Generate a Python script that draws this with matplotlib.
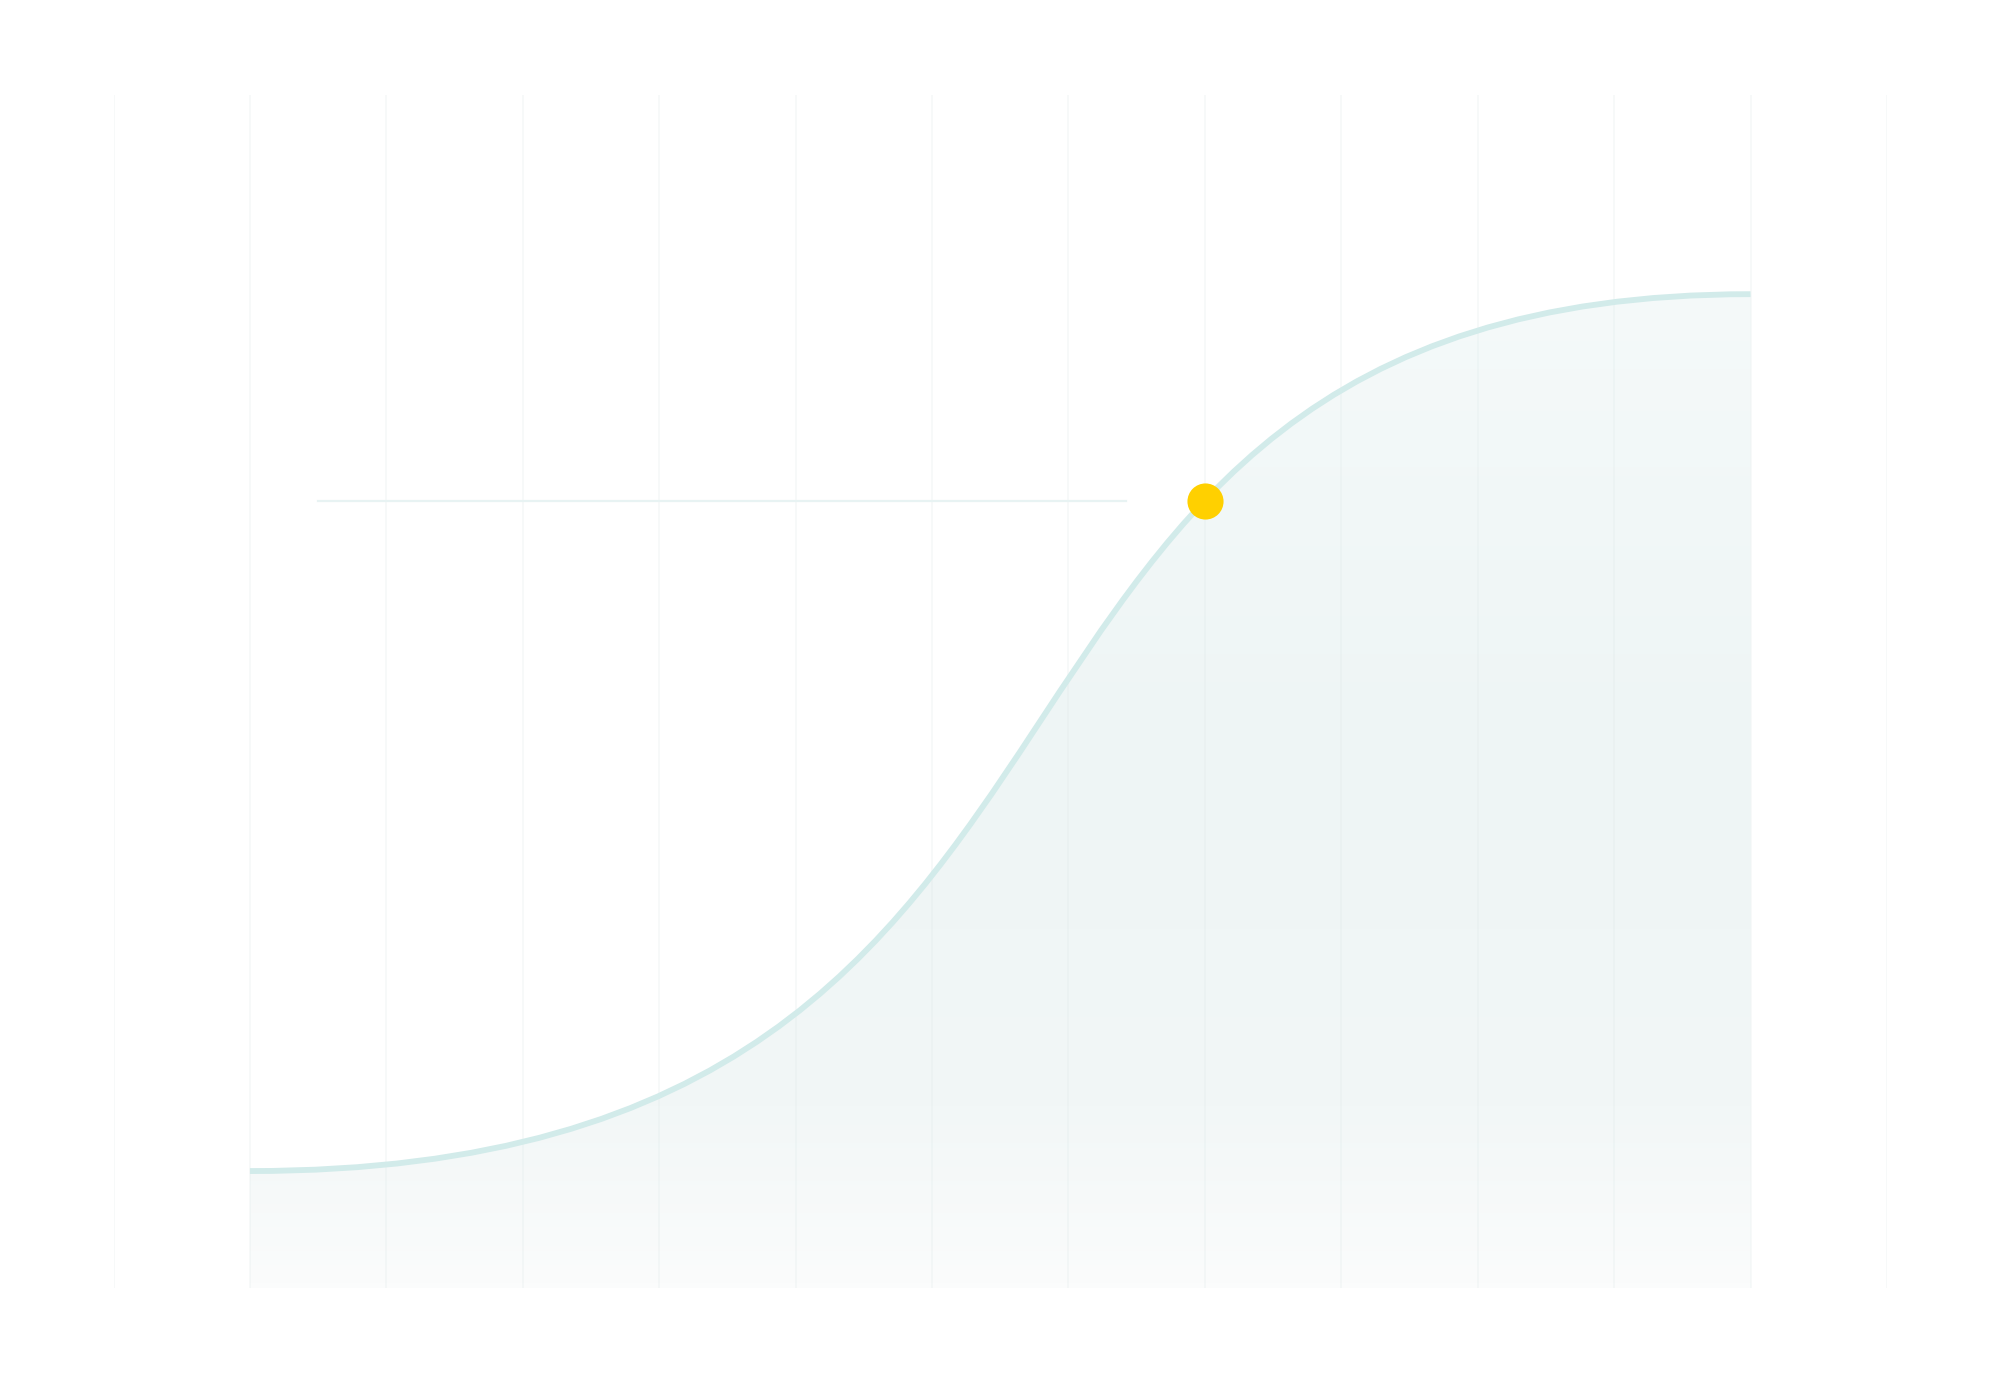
import numpy as np
from matplotlib import pyplot as plt
from matplotlib.colors import LinearSegmentedColormap
from matplotlib.path import Path
from matplotlib.patches import PathPatch

# Позиції сітки (категорії по осі X)
grid_x = np.arange(0, 14)

# Крива: початок, дві контрольні точки Безьє, кінець
curve_x = [1, 8.075, 5.56, 12]
curve_y = [9.8, 9.8, 83.3, 83.3]

# Виділена точка і опорна лінія
marker_x = 8
marker_y = 66.0
ref_x = [1.5, 7.42]
ref_y = 66.0

fig = plt.figure(figsize=(20, 13.8), dpi=100)
ax = fig.add_axes([0.05675, 0.0667, 0.88675, 0.8645])
ax.set_xlim(0, 13)
ax.set_ylim(0, 100)
ax.axis("off")

# Вертикальна сітка
for gx in grid_x:
    ax.axvline(gx, color="#dde8e8", alpha=0.28, linewidth=1.2, zorder=2)

curve_pts = list(zip(curve_x, curve_y))
curve_path = Path(curve_pts, [Path.MOVETO, Path.CURVE4, Path.CURVE4, Path.CURVE4])
area_path = Path(curve_pts + [(curve_x[-1], 0), (curve_x[0], 0), (curve_x[0], curve_y[0])],
                 [Path.MOVETO, Path.CURVE4, Path.CURVE4, Path.CURVE4,
                  Path.LINETO, Path.LINETO, Path.CLOSEPOLY])

# Градієнтна заливка під кривою
grad = LinearSegmentedColormap.from_list("fill", [
    (0.0, "#fbfcfc"),
    (0.15, "#f2f7f7"),
    (0.45, "#eef5f5"),
    (0.85, "#f5fafa"),
    (1.0, "#f7fbfb"),
])
img = ax.imshow(np.linspace(0, 1, 256).reshape(-1, 1), cmap=grad, aspect="auto",
                extent=[curve_x[0], curve_x[-1], 0, 100], origin="lower", zorder=1)
clip = PathPatch(area_path, transform=ax.transData, facecolor="none", edgecolor="none")
ax.add_patch(clip)
img.set_clip_path(clip)

# Крива
ax.add_patch(PathPatch(curve_path, facecolor="none", edgecolor="#d2ebea",
                       linewidth=4.2, capstyle="butt", zorder=3))

# Опорна лінія
ax.plot(ref_x, [ref_y, ref_y], color="#e8f3f3", linewidth=1.6, zorder=2)

# Точка
ax.plot([marker_x], [marker_y], "o", color="#ffd000", markersize=26,
        markeredgewidth=0, zorder=4)

fig.savefig("out.png", dpi=100, facecolor="white")
